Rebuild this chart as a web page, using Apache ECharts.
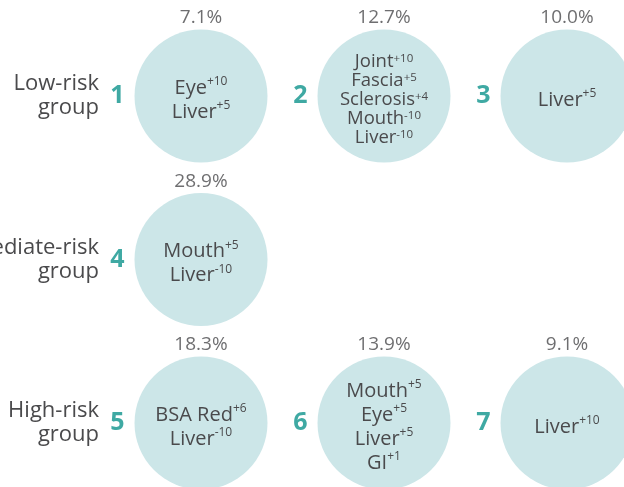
<!DOCTYPE html>
<html>
<head>
<meta charset="utf-8">
<script src="https://cdn.jsdelivr.net/npm/echarts@6/dist/echarts.min.js"></script>
<style>
  html, body { margin: 0; padding: 0; background: #ffffff; }
  #chart { width: 624px; height: 487px; }
</style>
</head>
<body>
<div id="chart"></div>
<script>
// ---- data ----
const groups = ['Low-risk\ngroup', 'Intermediate-risk\ngroup', 'High-risk\ngroup'];
const clusterIds = ['1', '2', '3', '4', '5', '6', '7'];
const clusterRow = [0, 0, 0, 1, 2, 2, 2];
const clusterCol = [0, 1, 2, 0, 0, 1, 2];
const percents = [7.1, 12.7, 10.0, 28.9, 18.3, 13.9, 9.1];
const features = [
  [['Eye', '+10'], ['Liver', '+5']],
  [['Joint', '+10'], ['Fascia', '+5'], ['Sclerosis', '+4'], ['Mouth', '-10'], ['Liver', '-10']],
  [['Liver', '+5']],
  [['Mouth', '+5'], ['Liver', '-10']],
  [['BSA Red', '+6'], ['Liver', '-10']],
  [['Mouth', '+5'], ['Eye', '+5'], ['Liver', '+5'], ['GI', '+1']],
  [['Liver', '+10']]
];

// ---- styling ----
const FONT = "'Open Sans', 'Noto Sans', sans-serif";
const TEXT = '#4a4a4c';
const TEAL = '#0f948c';
const FILL = '#cce6e8';
const SIZE = 133;

const points = clusterIds.map((id, i) => [clusterCol[i], clusterRow[i]]);

function featureText(list, compact) {
  const m = compact ? 'm2' : 'm';
  const s = compact ? 's2' : 's';
  return list.map(f => '{' + m + '|' + f[0] + '}{' + s + '|' + f[1] + '}').join('\n');
}

const circleData = points.map((p, i) => ({
  value: p,
  label: { formatter: featureText(features[i], features[i].length > 4) }
}));

const chart = echarts.init(document.getElementById('chart'), null, { renderer: 'canvas' });

chart.setOption({
  backgroundColor: '#ffffff',
  animation: false,
  grid: { left: 201, right: 57, top: 96, bottom: 64, containLabel: false, outerBoundsMode: 'none' },
  xAxis: {
    type: 'value', min: 0, max: 2, interval: 1,
    show: false
  },
  yAxis: {
    type: 'category', data: groups, inverse: true, boundaryGap: false,
    axisLine: { show: false }, axisTick: { show: false }, splitLine: { show: false },
    axisLabel: {
      margin: 102, align: 'right', color: TEXT,
      fontFamily: FONT, fontSize: 22, lineHeight: 24
    }
  },
  series: [
    {
      type: 'scatter',
      symbol: 'circle',
      symbolSize: SIZE,
      clip: false,
      silent: true,
      itemStyle: { color: FILL, opacity: 1 },
      data: circleData,
      label: {
        show: true, position: 'inside', align: 'center', verticalAlign: 'middle',
        offset: [0, 4],
        rich: {
          m: { fontFamily: FONT, fontSize: 20, lineHeight: 24, color: TEXT },
          s: { fontFamily: FONT, fontSize: 12, lineHeight: 20, color: TEXT, verticalAlign: 'top' },
          m2: { fontFamily: FONT, fontSize: 18.5, lineHeight: 19, color: TEXT },
          s2: { fontFamily: FONT, fontSize: 11.5, lineHeight: 16, color: TEXT, verticalAlign: 'top' }
        }
      }
    },
    {
      type: 'scatter',
      symbol: 'circle',
      symbolSize: SIZE,
      clip: false,
      silent: true,
      itemStyle: { color: 'rgba(0,0,0,0)' },
      data: points,
      label: {
        show: true, position: 'top', distance: 2,
        formatter: p => percents[p.dataIndex].toFixed(1) + '%',
        fontFamily: FONT, fontSize: 19, color: TEXT
      }
    },
    {
      type: 'scatter',
      symbol: 'circle',
      symbolSize: SIZE,
      clip: false,
      silent: true,
      itemStyle: { color: 'rgba(0,0,0,0)' },
      data: points,
      label: {
        show: true, position: 'left', distance: 10,
        formatter: p => clusterIds[p.dataIndex],
        fontFamily: FONT, fontSize: 25, fontWeight: 'bold', color: TEAL
      }
    }
  ]
});
</script>
</body>
</html>
